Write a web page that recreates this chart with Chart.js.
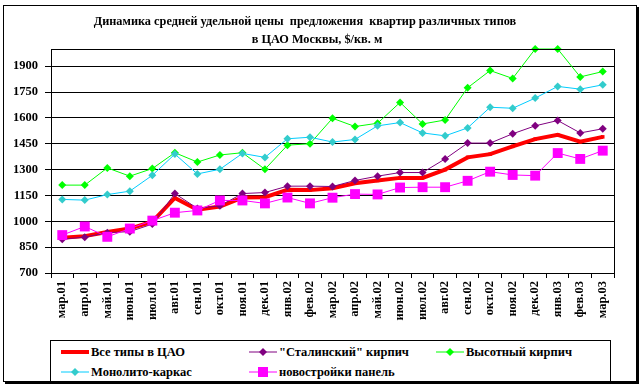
<!DOCTYPE html>
<html>
<head>
<meta charset="utf-8">
<script src="https://cdn.jsdelivr.net/npm/chart.js@4"></script>
<style>
  body { margin: 0; background: #fff; }
  #wrap { position: relative; width: 644px; height: 389px; font-family: "Liberation Serif", "Times New Roman", serif; }
  #frame { position: absolute; left: 3px; top: 5px; width: 632px; height: 375px; border: 1px solid #000; box-shadow: 2px 2px 0 #000; }
  .ttl { position: absolute; font-weight: bold; font-size: 12.3px; white-space: pre; text-align: center; }
  #legend { position: absolute; left: 50px; top: 340px; width: 559px; height: 40px; border: 1px solid #000; background: #fff; }
  .item { position: absolute; height: 16px; display: flex; align-items: center; font-weight: bold; font-size: 12.5px; white-space: pre; }
  .item svg { margin-right: 2px; }
  canvas { position: absolute; left: 0; top: 0; }
</style>
</head>
<body>
<div id="wrap">
  <div id="frame"></div>
  <canvas id="chart" width="644" height="389"></canvas>
  <div class="ttl" style="left:0;width:610px;top:14px;">Динамика средней удельной цены  предложения  квартир различных типов</div>
  <div class="ttl" style="left:0;width:634px;top:32px;">в ЦАО Москвы, $/кв. м</div>
  <div id="legend"></div>
</div>
<script>
// ==================== DATA ====================
const months = ['мар.01', 'апр.01', 'май.01', 'июн.01', 'июл.01', 'авг.01', 'сен.01', 'окт.01', 'ноя.01', 'дек.01',
                'янв.02', 'фев.02', 'мар.02', 'апр.02', 'май.02', 'июн.02', 'июл.02', 'авг.02', 'сен.02', 'окт.02',
                'ноя.02', 'дек.02', 'янв.03', 'фев.03', 'мар.03'];

const allTypes    = [904, 914, 938, 958, 998, 1136, 1067, 1086, 1138, 1140, 1183, 1181, 1192, 1221, 1237, 1252, 1252, 1300, 1371, 1390, 1435, 1477, 1502, 1462, 1490];
const stalinBrick = [896, 908, 934, 940, 984, 1161, 1075, 1090, 1161, 1167, 1204, 1204, 1202, 1237, 1262, 1283, 1283, 1362, 1454, 1454, 1508, 1554, 1585, 1513, 1537];
const highBrick   = [1210, 1210, 1310, 1262, 1306, 1398, 1344, 1385, 1398, 1302, 1442, 1450, 1598, 1550, 1569, 1690, 1565, 1588, 1775, 1875, 1829, 2000, 2000, 1838, 1869];
const monolith    = [1127, 1123, 1155, 1175, 1267, 1390, 1275, 1302, 1394, 1371, 1479, 1488, 1460, 1475, 1554, 1573, 1513, 1496, 1542, 1662, 1656, 1715, 1783, 1767, 1792];
const newPanel    = [920, 970, 910, 958, 1004, 1050, 1063, 1121, 1121, 1104, 1138, 1104, 1137, 1158, 1156, 1196, 1198, 1198, 1235, 1288, 1269, 1265, 1396, 1362, 1410];

const yTicks = [700, 850, 1000, 1150, 1300, 1450, 1600, 1750, 1900];
const yMin = 700, yMax = 2000;

const FONT = "'Liberation Serif', 'Times New Roman', serif";

// ==================== DATASETS ====================
const series = [
  { label: 'Все типы в ЦАО', data: allTypes, line: '#ff0000', mark: '#ff0000', width: 4, style: 'rect', r: 2.5, order: 5 },
  { label: '"Сталинский" кирпич', data: stalinBrick, line: '#800080', mark: '#800080', width: 1, style: 'rectRot', r: 4, order: 4 },
  { label: 'Высотный кирпич', data: highBrick, line: '#00ff00', mark: '#00ff00', width: 1, style: 'rectRot', r: 4, order: 3 },
  { label: 'Монолито-каркас', data: monolith, line: '#00ccff', mark: '#33cccc', width: 1, style: 'rectRot', r: 4, order: 2 },
  { label: 'новостройки панель', data: newPanel, line: '#ff00ff', mark: '#ff00ff', width: 1, style: 'rect', r: 7, order: 1 }
];

const datasets = series.map(s => ({
  label: s.label,
  data: s.data,
  borderColor: s.line,
  borderWidth: s.width,
  backgroundColor: s.mark,
  pointBackgroundColor: s.mark,
  pointBorderColor: s.mark,
  pointBorderWidth: 0,
  pointStyle: s.style,
  pointRadius: s.r,
  tension: 0,
  clip: false,
  order: s.order
}));

// plot frame (top and right edges)
const frameBox = {
  id: 'frameBox',
  afterDraw(chart) {
    const a = chart.chartArea, ctx = chart.ctx;
    ctx.save();
    ctx.strokeStyle = '#000';
    ctx.lineWidth = 1;
    ctx.strokeRect(Math.round(a.left) + 0.5, Math.round(a.top) + 0.5, Math.round(a.right - a.left), Math.round(a.bottom - a.top));
    ctx.restore();
  }
};

new Chart(document.getElementById('chart'), {
  type: 'line',
  data: { labels: months, datasets: datasets },
  plugins: [frameBox],
  options: {
    responsive: false,
    devicePixelRatio: 1,
    animation: false,
    events: [],
    layout: { padding: { left: 3, top: 49, right: 30, bottom: 56 } },
    plugins: { legend: { display: false }, tooltip: { enabled: false }, title: { display: false } },
    scales: {
      x: {
        type: 'category',
        offset: true,
        afterFit: s => { s.height = 60; },
        grid: { offset: true, drawOnChartArea: false, color: '#000', tickLength: 5 },
        border: { color: '#000', width: 1 },
        ticks: { autoSkip: false, minRotation: 90, maxRotation: 90, color: '#000', padding: 3,
                 font: { family: FONT, size: 12.5, weight: 'bold' } }
      },
      y: {
        min: yMin,
        max: yMax,
        afterFit: s => { s.width = 48; },
        afterBuildTicks: s => { s.ticks = yTicks.map(v => ({ value: v })); },
        grid: { color: '#000', tickLength: 6 },
        border: { color: '#000', width: 1 },
        ticks: { color: '#000', padding: 7, callback: v => String(v),
                 font: { family: FONT, size: 12.5, weight: 'bold' } }
      }
    }
  }
});

// ==================== LEGEND ====================
const legendPos = [[10, 3], [198, 3], [385, 3], [10, 23], [198, 23]];
const legend = document.getElementById('legend');
series.forEach((s, i) => {
  const el = document.createElement('div');
  el.className = 'item';
  el.style.left = legendPos[i][0] + 'px';
  el.style.top = legendPos[i][1] + 'px';
  let marker;
  if (s.style === 'rect') {
    const h = s.r === 7 ? 5 : 2;
    marker = `<rect x="${14 - h}" y="${8 - h}" width="${2 * h}" height="${2 * h}" fill="${s.mark}"/>`;
  } else {
    marker = `<polygon points="14,4 18,8 14,12 10,8" fill="${s.mark}"/>`;
  }
  el.innerHTML = `<svg width="28" height="16"><line x1="0" y1="8" x2="28" y2="8" stroke="${s.line}" stroke-width="${s.width}"/>${marker}</svg>${s.label}`;
  legend.appendChild(el);
});
</script>
</body>
</html>
